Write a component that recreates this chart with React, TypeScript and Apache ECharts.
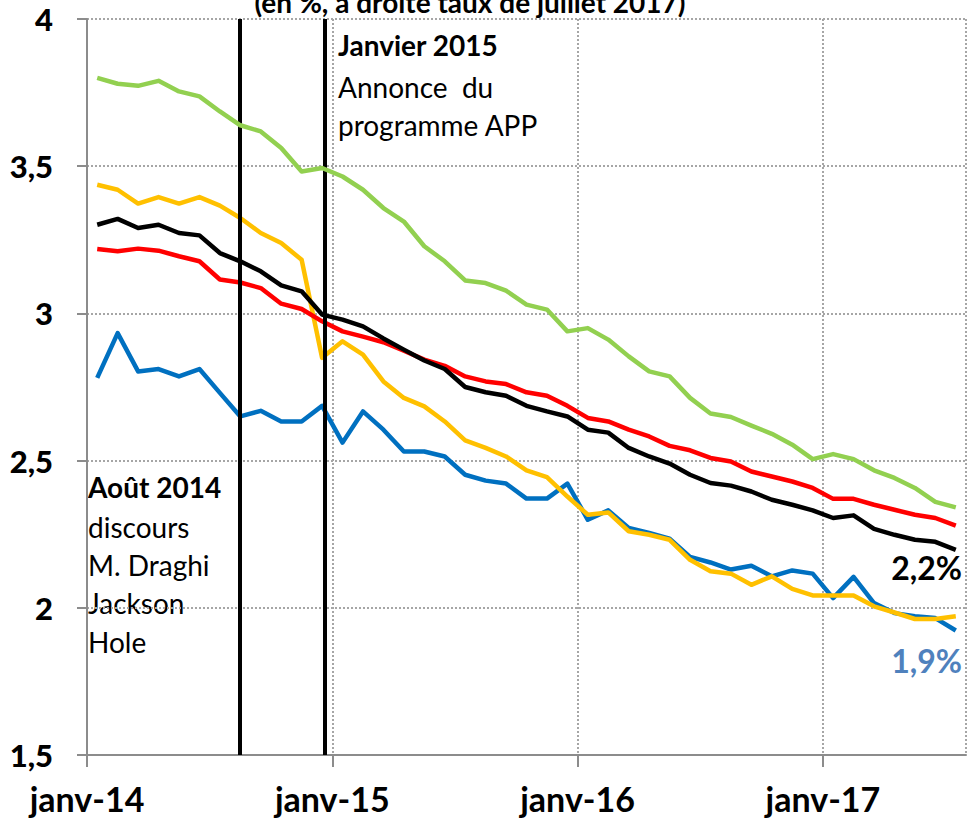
import React, { useEffect, useRef } from "react";
import * as echarts from "echarts";

// Monthly data, janv-14 .. juil-17 (43 months)
const months = [
  "janv-14","févr-14","mars-14","avr-14","mai-14","juin-14","juil-14","août-14","sept-14","oct-14","nov-14","déc-14",
  "janv-15","févr-15","mars-15","avr-15","mai-15","juin-15","juil-15","août-15","sept-15","oct-15","nov-15","déc-15",
  "janv-16","févr-16","mars-16","avr-16","mai-16","juin-16","juil-16","août-16","sept-16","oct-16","nov-16","déc-16",
  "janv-17","févr-17","mars-17","avr-17","mai-17","juin-17","juil-17",
];
const tickLabels = ["janv-14", "janv-15", "janv-16", "janv-17"];

const greenValues = [3.80,3.78,3.773,3.79,3.754,3.737,3.686,3.639,3.618,3.562,3.482,3.494,3.465,3.42,3.358,3.312,3.228,3.177,3.112,3.103,3.077,3.03,3.013,2.939,2.95,2.911,2.854,2.803,2.786,2.713,2.66,2.648,2.619,2.591,2.554,2.505,2.522,2.505,2.467,2.441,2.407,2.36,2.341];
const yellowValues = [3.437,3.42,3.373,3.395,3.373,3.395,3.366,3.324,3.273,3.239,3.182,2.849,2.905,2.86,2.769,2.713,2.684,2.633,2.569,2.543,2.514,2.467,2.444,2.378,2.316,2.324,2.26,2.248,2.231,2.163,2.124,2.116,2.078,2.107,2.064,2.042,2.042,2.042,2.005,1.984,1.962,1.962,1.971];
const blackValues = [3.301,3.321,3.29,3.301,3.273,3.265,3.205,3.177,3.143,3.095,3.075,2.996,2.979,2.956,2.915,2.877,2.84,2.811,2.75,2.732,2.72,2.686,2.667,2.65,2.605,2.595,2.543,2.514,2.49,2.452,2.424,2.415,2.395,2.367,2.35,2.331,2.305,2.314,2.268,2.248,2.231,2.224,2.197];
const redValues = [3.219,3.211,3.22,3.213,3.194,3.177,3.115,3.105,3.086,3.033,3.015,2.973,2.939,2.921,2.902,2.873,2.843,2.822,2.786,2.769,2.76,2.732,2.72,2.686,2.645,2.633,2.605,2.582,2.55,2.535,2.509,2.497,2.463,2.446,2.429,2.407,2.37,2.37,2.35,2.333,2.316,2.305,2.279];
const blueValues = [2.781,2.933,2.803,2.811,2.786,2.811,2.73,2.65,2.669,2.633,2.633,2.686,2.561,2.667,2.605,2.531,2.531,2.514,2.452,2.432,2.422,2.371,2.371,2.422,2.299,2.331,2.271,2.254,2.235,2.173,2.154,2.13,2.143,2.107,2.127,2.116,2.033,2.105,2.016,1.982,1.971,1.965,1.923];

// Event markers (month index from janv-14)
const eventAug2014 = 7.48;
const eventJan2015 = 11.64;

const FONT = "Lato, 'Liberation Sans', sans-serif";

const toPoints = (vals: number[]) => vals.map((v, i) => [i + 0.5, v]);

export default function App() {
  const ref = useRef<HTMLDivElement>(null);
  useEffect(() => {
    document.body.style.margin = "0";
    if (!ref.current) return;
    const chart = echarts.init(ref.current, null, { renderer: "svg" });
    const lineSeries = (name: string, vals: number[], color: string, z: number) => ({
      type: "line",
      name,
      data: toPoints(vals),
      showSymbol: false,
      symbol: "none",
      z,
      lineStyle: { color, width: 4.5, cap: "butt", join: "round" },
      itemStyle: { color },
    });
    const gridLine = { show: true, lineStyle: { color: "#a6a6a6", width: 2, type: "dotted" } };
    chart.setOption({
      animation: false,
      grid: { left: 87, right: 1, top: 19, bottom: 65, containLabel: false },
      xAxis: {
        type: "value",
        min: 0,
        max: months.length,
        interval: 12,
        axisLine: { show: true, lineStyle: { color: "#8c8c8c", width: 2 } },
        axisTick: { show: true, length: 12, lineStyle: { color: "#8c8c8c", width: 2 } },
        axisLabel: {
          showMaxLabel: false,
          margin: 26,
          fontFamily: FONT,
          fontWeight: "bold",
          fontSize: 34,
          color: "#000",
          formatter: (v: number) => tickLabels[Math.round(v / 12)] ?? "",
        },
        splitLine: gridLine,
      },
      yAxis: {
        type: "value",
        min: 1.5,
        max: 4,
        interval: 0.5,
        axisLine: { show: true, lineStyle: { color: "#8c8c8c", width: 2 } },
        axisTick: { show: true, length: 10, lineStyle: { color: "#8c8c8c", width: 2 } },
        axisLabel: {
          margin: 34,
          fontFamily: FONT,
          fontWeight: 900,
          fontSize: 31,
          color: "#000",
          formatter: (v: number) => String(v).replace(".", ","),
        },
        splitLine: gridLine,
      },
      series: [
        lineSeries("Série bleue", blueValues, "#0070c0", 2),
        lineSeries("Série jaune", yellowValues, "#ffc000", 3),
        lineSeries("Série rouge", redValues, "#ff0000", 4),
        lineSeries("Série noire", blackValues, "#000000", 5),
        {
          ...lineSeries("Série verte", greenValues, "#92d050", 6),
          markLine: {
            silent: true,
            symbol: "none",
            label: { show: false },
            lineStyle: { color: "#000", width: 4, type: "solid" },
            data: [
              [{ coord: [eventAug2014, 4] }, { coord: [eventAug2014, 1.5] }],
              [{ coord: [eventJan2015, 4] }, { coord: [eventJan2015, 1.5] }],
            ],
          },
        },
      ],
      graphic: [
        { type: "text", x: 470, y: 2, style: { text: "(en %, à droite taux de juillet 2017)", font: `bold 28px ${FONT}`, fill: "#000", align: "center", verticalAlign: "middle" } },
        { type: "text", x: 338, y: 45, style: { text: "Janvier 2015", font: `bold 28px ${FONT}`, fill: "#000", align: "left", verticalAlign: "middle" } },
        { type: "text", x: 338, y: 87, style: { text: "Annonce  du", font: `28px ${FONT}`, fill: "#000", align: "left", verticalAlign: "middle" } },
        { type: "text", x: 338, y: 125, style: { text: "programme APP", font: `28px ${FONT}`, fill: "#000", align: "left", verticalAlign: "middle" } },
        { type: "text", x: 88, y: 487, style: { text: "Août 2014", font: `bold 28px ${FONT}`, fill: "#000", align: "left", verticalAlign: "middle" } },
        { type: "text", x: 88, y: 527, style: { text: "discours", font: `28px ${FONT}`, fill: "#000", align: "left", verticalAlign: "middle" } },
        { type: "text", x: 88, y: 565, style: { text: "M. Draghi", font: `28px ${FONT}`, fill: "#000", align: "left", verticalAlign: "middle" } },
        { type: "text", x: 88, y: 603, style: { text: "Jackson", font: `28px ${FONT}`, fill: "#000", align: "left", verticalAlign: "middle" } },
        { type: "text", x: 88, y: 642, style: { text: "Hole", font: `28px ${FONT}`, fill: "#000", align: "left", verticalAlign: "middle" } },
        { type: "text", x: 962, y: 567, style: { text: "2,2%", font: `bold 32px ${FONT}`, fill: "#000", align: "right", verticalAlign: "middle" } },
        { type: "text", x: 962, y: 660, style: { text: "1,9%", font: `bold 32px ${FONT}`, fill: "#4f81bd", align: "right", verticalAlign: "middle" } },
      ],
    });
    return () => chart.dispose();
  }, []);
  return <div ref={ref} style={{ width: 967, height: 820 }} />;
}
